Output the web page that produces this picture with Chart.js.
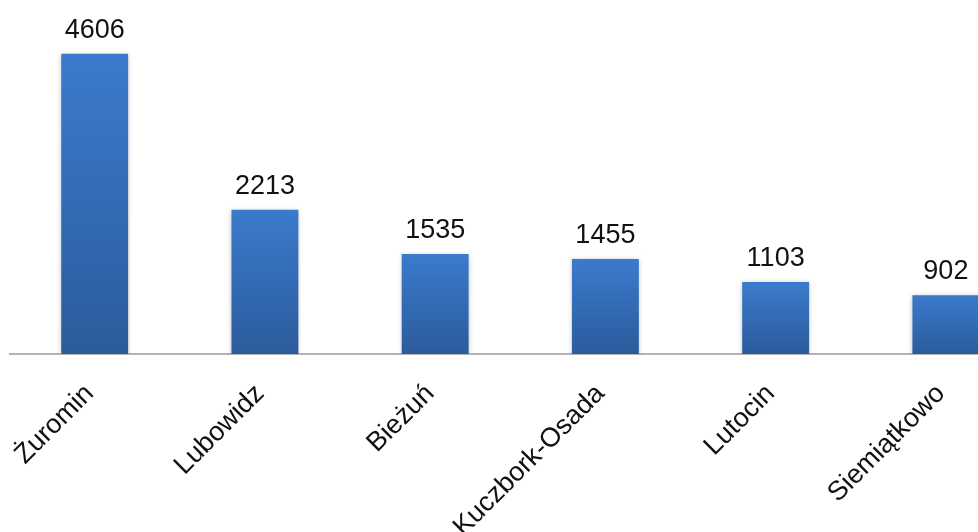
<!DOCTYPE html>
<html><head><meta charset="utf-8">
<script src="https://cdn.jsdelivr.net/npm/chart.js@4/dist/chart.umd.min.js"></script>
<style>
html,body{margin:0;padding:0;background:#fff;overflow:hidden;}
#wrap{width:978px;height:532px;overflow:hidden;position:relative;}
canvas{display:block;}
</style></head>
<body><div id="wrap"><canvas id="c" width="1040" height="532"></canvas></div>
<script>
const categories = ["Żuromin", "Lubowidz", "Bieżuń", "Kuczbork-Osada", "Lutocin", "Siemiątkowo"];
const values = [4606, 2213, 1535, 1455, 1103, 902];

const FONT = "'Liberation Sans', Arial, sans-serif";

const valueLabels = {
  id: 'valueLabels',
  afterDatasetsDraw(chart) {
    const ctx = chart.ctx;
    const meta = chart.getDatasetMeta(0);
    ctx.save();
    ctx.font = "27px " + FONT;
    ctx.fillStyle = "#111";
    ctx.textAlign = "center";
    ctx.textBaseline = "alphabetic";
    meta.data.forEach((bar, i) => {
      ctx.fillText(String(values[i]), bar.x, bar.y - 16);
    });
    ctx.restore();
  }
};
const barShadow = {
  id: 'barShadow',
  beforeDatasetDraw(chart) {
    const ctx = chart.ctx;
    ctx.save();
    ctx.shadowColor = "rgba(0,0,0,0.28)";
    ctx.shadowBlur = 5;
    ctx.shadowOffsetX = 0;
    ctx.shadowOffsetY = 1;
  },
  afterDatasetDraw(chart) { chart.ctx.restore(); }
};

new Chart(document.getElementById('c'), {
  type: 'bar',
  data: {
    labels: categories,
    datasets: [{
      data: values,
      backgroundColor: (c) => {
        const chart = c.chart;
        const area = chart.chartArea;
        if (!area || c.raw === undefined) return '#3468b0';
        const top = chart.scales.y.getPixelForValue(c.raw);
        const g = chart.ctx.createLinearGradient(0, top, 0, area.bottom);
        g.addColorStop(0, '#3b7bcc');
        g.addColorStop(1, '#2b5b9c');
        return g;
      },
      borderWidth: 0,
      barPercentage: 0.393,
      categoryPercentage: 1
    }]
  },
  options: {
    responsive: false,
    animation: false,
    events: [],
    layout: { padding: { left: 8, right: 9, top: 10, bottom: 0 } },
    plugins: { legend: { display: false }, tooltip: { enabled: false } },
    scales: {
      x: {
        offset: true,
        grid: { display: false, drawTicks: false },
        border: { display: true, color: '#b3b3b3', width: 2 },
        ticks: {
          autoSkip: false, maxRotation: 45, minRotation: 45,
          padding: 24, labelOffset: -5, color: '#111',
          font: { family: FONT, size: 27 }
        },
        afterFit: (s) => { s.height = 178; }
      },
      y: {
        display: false,
        min: 0, max: 5275
      }
    }
  },
  plugins: [barShadow, valueLabels]
});
</script></body></html>
